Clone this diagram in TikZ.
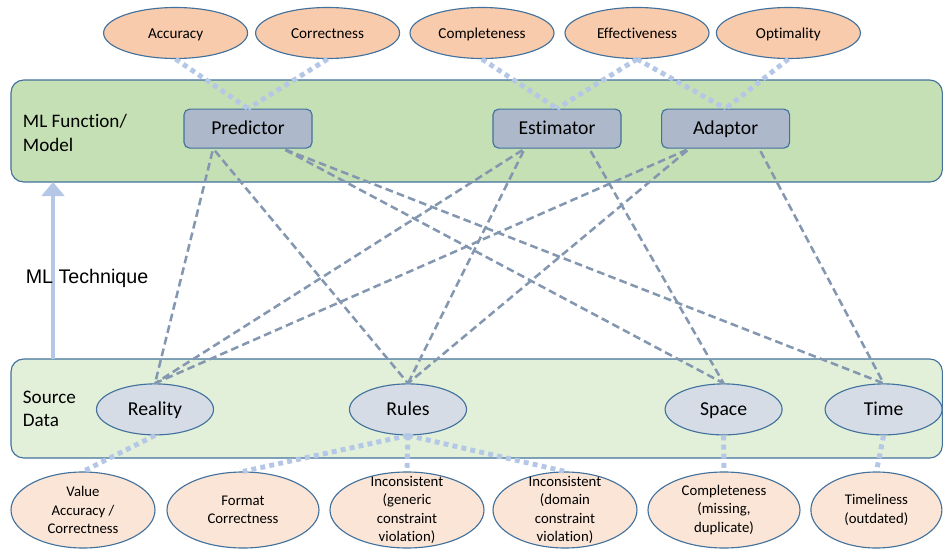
\documentclass[tikz,border=0pt]{standalone}
\usepackage{fontspec}
\setmainfont{Carlito}[Ligatures={NoCommon}]
\newfontfamily\arialfont{Liberation Sans}
\usetikzlibrary{shapes.geometric,calc,arrows.meta}

\definecolor{edge}{HTML}{41719C}
\definecolor{bandtop}{HTML}{C5E0B4}
\definecolor{bandbot}{HTML}{E2F0D9}
\definecolor{peach}{HTML}{F8CBAD}
\definecolor{lightpeach}{HTML}{FBE5D6}
\definecolor{boxfill}{HTML}{ADB9CA}
\definecolor{srcfill}{HTML}{D6DCE5}
\definecolor{linkgray}{HTML}{8497B0}
\definecolor{dotblue}{HTML}{B4C7E7}

\begin{document}
\begin{tikzpicture}[
  band/.style={draw=edge, line width=0.8pt, rounded corners=9pt},
  side/.style={anchor=west, align=left, font=\fontsize{13.6}{16.7}\selectfont},
  topq/.style={ellipse, draw=edge, line width=0.8pt, fill=peach, minimum width=3.6cm, minimum height=1.275cm, inner sep=0pt, text height=0.8em, text depth=0pt, font=\fontsize{10.8}{12}\selectfont},
  fnbox/.style={rectangle, rounded corners=4pt, draw=edge, line width=0.8pt, fill=boxfill, minimum width=3.2cm, minimum height=0.975cm, inner sep=0pt, text height=0.84em, text depth=0pt, font=\fontsize{14}{16}\selectfont},
  srcq/.style={ellipse, draw=edge, line width=0.8pt, fill=srcfill, minimum width=2.925cm, minimum height=1.275cm, inner sep=0pt, text height=0.84em, text depth=0pt, font=\fontsize{14}{16}\selectfont},
  botq/.style={ellipse, draw=edge, line width=0.8pt, fill=lightpeach, minimum height=1.9cm, inner sep=0pt},
  botlbl/.style={align=center, font=\fontsize{10.5}{13.2}\selectfont},
  link/.style={draw=linkgray, line width=1.8pt, dash pattern=on 5.5pt off 3pt, shorten <=2pt},
  dots/.style={draw=dotblue, line width=3.5pt, dash pattern=on 3.5pt off 3pt},
]
\useasboundingbox (0,0) rectangle (23.6,13.725);

\draw[band, fill=bandtop] (0.275,9.175) rectangle (23.56,11.725);
\draw[band, fill=bandbot] (0.275,2.275) rectangle (23.56,4.75);

\node[side] (mlf) at (0.45,10.4) {ML Function/\\Model};
\node[side] (srcd) at (0.45,3.5) {Source\\Data};

\coordinate (srcedge) at (1.325,4.75);
\coordinate (mledge) at (1.325,9.175);
\draw[draw=dotblue, line width=3pt, -{Triangle[width=16pt,length=10pt]}] (srcedge) -- (mledge);
\node[anchor=west, font=\arialfont\fontsize{14}{16}\selectfont] (tech) at (0.52,6.775) {ML Technique};

\node[topq] (acc) at (4.39,12.9) {Accuracy};
\node[topq] (cor) at (8.19,12.9) {Correctness};
\node[topq] (cmp) at (12.05,12.9) {Completeness};
\node[topq] (eff) at (15.925,12.9) {Effectiveness};
\node[topq] (opt) at (19.71,12.9) {Optimality};

\node[fnbox] (pred) at (6.2,10.51) {Predictor};
\node[fnbox] (est) at (13.925,10.51) {Estimator};
\node[fnbox] (adp) at (18.14,10.51) {Adaptor};

\node[srcq] (real) at (3.875,3.49) {Reality};
\node[srcq] (rules) at (10.2,3.49) {Rules};
\node[srcq] (space) at (18.09,3.49) {Space};
\node[srcq] (time) at (22.09,3.49) {Time};

\node[botq, minimum width=3.6cm, label={[botlbl]center:{Value\\Accuracy /\\Correctness}}] (val) at (2.075,0.975) {};
\node[botq, minimum width=3.8cm, label={[botlbl]center:{Format\\Correctness}}] (fmt) at (6.075,0.975) {};
\node[botq, minimum width=3.85cm, label={[botlbl]center:{Inconsistent\\(generic\\constraint\\violation)}}] (gen) at (10.175,0.975) {};
\node[botq, minimum width=3.6cm, label={[botlbl]center:{Inconsistent\\(domain\\constraint\\violation)}}] (dom) at (14.125,0.975) {};
\node[botq, minimum width=3.8cm, label={[botlbl]center:{Completeness\\(missing,\\duplicate)}}] (cpl) at (18.1,0.975) {};
\node[botq, minimum width=3.275cm, label={[botlbl]center:{Timeliness\\(outdated)}}] (tml) at (21.91,0.975) {};

\draw[dots] (acc.south) -- (pred.north);
\draw[dots] (cor.south) -- (pred.north);
\draw[dots] (cmp.south) -- (est.north);
\draw[dots] (eff.south) -- (est.north);
\draw[dots] (eff.south) -- (adp.north);
\draw[dots] (opt.south) -- (adp.north);

\draw[dots] (real.south) -- (val.north);
\draw[dots] (rules.south) -- (fmt.north);
\draw[dots] (rules.south) -- (gen.north);
\draw[dots] (rules.south) -- (dom.north);
\draw[dots] (space.south) -- (cpl.north);
\draw[dots] (time.south) -- (tml.north);

\draw[link] ($(pred.south west)!0.23!(pred.south east)$) -- (real.north);
\draw[link] ($(pred.south west)!0.23!(pred.south east)$) -- (rules.north);
\draw[link] ($(pred.south west)!0.77!(pred.south east)$) -- (space.north);
\draw[link] ($(pred.south west)!0.77!(pred.south east)$) -- (time.north);
\draw[link] ($(est.south west)!0.25!(est.south east)$) -- (real.north);
\draw[link] ($(est.south west)!0.25!(est.south east)$) -- (rules.north);
\draw[link] ($(est.south west)!0.75!(est.south east)$) -- (space.north);
\draw[link] ($(adp.south west)!0.22!(adp.south east)$) -- (real.north);
\draw[link] ($(adp.south west)!0.22!(adp.south east)$) -- (rules.north);
\draw[link] ($(adp.south west)!0.76!(adp.south east)$) -- (time.north);
\end{tikzpicture}
\end{document}
